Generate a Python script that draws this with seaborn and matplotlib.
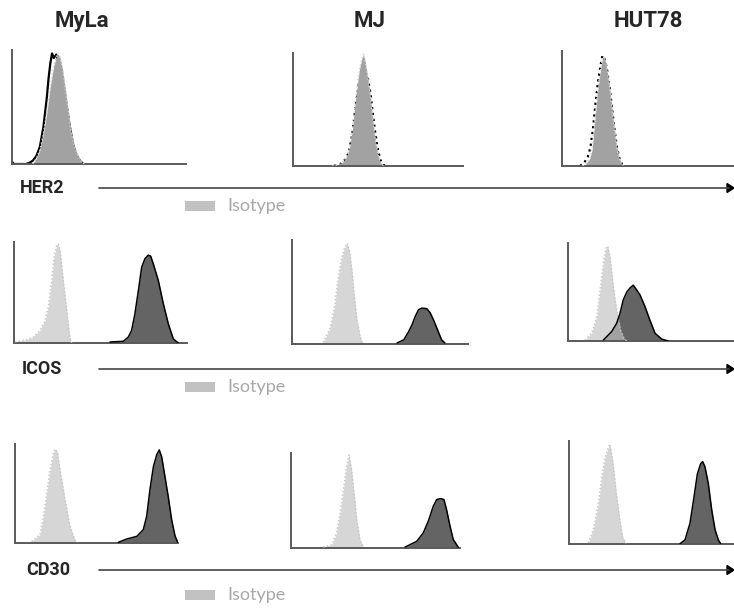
import numpy as np
import pandas as pd
import seaborn as sns
import matplotlib.pyplot as plt
from matplotlib.lines import Line2D
from matplotlib.patches import Polygon, Rectangle

cell_lines = ["MyLa", "MJ", "HUT78"]
markers = ["HER2", "ICOS", "CD30"]

# histogram outlines: (fluorescence % of axis, count % of axis)
her2_myla_iso = [(12, 0), (14, 5), (16, 12), (18, 26), (20, 45), (22, 68), (24, 86), (26, 97), (27.5, 94),
                 (29, 84), (31, 62), (32.5, 45), (34, 28), (36, 15), (38, 7), (40, 2), (41.5, 0)]
her2_myla_stain = [(0, 2), (1, 0), (8, 0), (10, 1), (12, 3), (14, 7), (16, 15), (18, 32), (19, 45), (20, 58),
                   (21, 75), (22, 88), (23, 97), (24, 93), (25.5, 96), (27, 88), (29, 75), (31, 55), (33, 35),
                   (35, 18), (37, 8), (39, 3), (41, 0)]
her2_mj_iso = [(23, 0), (26, 1), (29, 3), (31, 7), (33, 14), (35, 33), (37, 62), (39, 85), (40.5, 95),
               (41.5, 99), (42.5, 92), (44, 78), (45.5, 62), (47, 40), (48.5, 22), (50, 10), (51.5, 3), (53, 0)]
her2_mj_stain = [(24, 0), (28, 2), (31, 6), (33, 13), (35, 30), (37, 55), (39, 75), (41, 83), (42.5, 83),
                 (44, 78), (45.5, 65), (47, 46), (48.5, 28), (50, 14), (51.5, 5), (53, 1), (55, 0)]
her2_hut_iso = [(12, 0), (14, 2), (16, 6), (17.5, 14), (19, 38), (20.5, 62), (22, 80), (23.5, 93), (24.5, 95),
                (25.5, 90), (27, 76), (28.5, 58), (30, 38), (31.5, 20), (33, 8), (34.5, 2), (35.5, 0)]
her2_hut_stain = [(10.5, 0), (13, 3), (15, 8), (16.5, 16), (18, 32), (19.5, 55), (21, 74), (22.5, 88),
                  (23.5, 96), (24.5, 94), (26, 86), (27.5, 70), (29, 52), (30.5, 32), (32, 16), (33.5, 6),
                  (35, 1), (36, 0)]

icos_myla_iso = [(0.6, 1), (7.3, 3.3), (11.2, 6), (15, 12.5), (17.9, 22), (19.8, 36), (21.8, 62), (23.1, 85),
                 (24.7, 97), (25.6, 98), (26.6, 92), (28.5, 62), (30.5, 32), (31.8, 12.5), (32.8, 1), (33.5, 0)]
icos_myla_stain = [(55.5, 1), (63.2, 1.7), (66.1, 6), (68, 12.5), (69.9, 29), (71.9, 52), (73.8, 75),
                   (75.7, 83.5), (77.6, 87), (79, 86), (80.5, 78.5), (83.4, 62), (86.3, 39), (89.2, 19),
                   (92.1, 4), (95, 0)]
icos_mj_iso = [(17.6, 1.6), (21.3, 13.7), (24.2, 36), (26, 61), (27.9, 81), (29.8, 92), (31.3, 97), (32.6, 90),
               (34.1, 71), (35.4, 46), (36.9, 23.6), (38.8, 7), (40.4, 0)]
icos_mj_stain = [(59.7, 1), (63.5, 4), (66.3, 12), (68.2, 18.5), (70, 26.5), (71.9, 33), (73.8, 34.5),
                 (76.6, 34), (78.5, 30), (80.3, 23.6), (82.2, 15.7), (85, 4), (86.9, 1)]
icos_hut_iso = [(10.2, 1), (14.3, 8), (17.3, 25), (19.3, 52), (21.3, 80), (22.9, 95), (23.9, 97), (25.3, 86),
                (27.3, 56), (29.3, 32), (31.7, 11), (33.7, 3), (35.4, 0)]
icos_hut_stain = [(21.3, 1), (26.3, 9.6), (29.3, 18), (31.3, 28), (33.3, 42), (35.4, 50), (37.3, 54),
                  (39.3, 57), (41.4, 52), (43.4, 47), (46.4, 35), (49.4, 21), (52.4, 8), (56.4, 2), (60.4, 0)]

cd30_myla_iso = [(10.2, 1.7), (15.3, 8.4), (17.4, 27), (19.4, 50), (21.5, 74), (23.5, 91), (24.5, 95),
                 (26, 92), (27.6, 74), (30.7, 44), (33.7, 17), (36.8, 3), (38.2, 0)]
cd30_myla_stain = [(63.4, 0.7), (68.5, 4), (74.7, 6.7), (78.7, 13.4), (80.8, 27), (82.8, 54), (84.9, 77),
                   (86.9, 89), (88.5, 94), (90, 87), (92, 67), (94, 47), (96.1, 23.5), (98.2, 7), (99.8, 0.7)]
cd30_mj_iso = [(19.1, 1), (24.1, 3.5), (27, 16), (29, 37), (31, 61), (32.9, 86), (34.3, 98), (35.9, 82),
               (37.3, 58), (38.9, 30), (40.8, 9), (42.8, 1)]
cd30_mj_stain = [(67.5, 1), (70.4, 3.5), (74.4, 7), (78.3, 16), (81.2, 28), (84.2, 44), (86.2, 51),
                 (88.6, 52), (90.5, 51), (92.1, 40), (94.1, 23), (96, 9), (99, 0.7)]
cd30_hut_iso = [(11.7, 1), (14.7, 14), (17.8, 39.5), (19.8, 65), (21.8, 84), (23.8, 94), (24.8, 97),
                (26.5, 81), (28.5, 52), (30.5, 27), (32.5, 7), (34.5, 0.3)]
cd30_hut_stain = [(67.3, 0.3), (70.3, 4), (73.3, 20), (75.8, 46), (77.8, 68), (79.8, 78), (81, 80),
                  (82.4, 75), (84.4, 59), (86.5, 33), (88.5, 14), (90.5, 4), (91.9, 0.3)]

curves = {
    ("HER2", "MyLa"): (her2_myla_iso, her2_myla_stain),
    ("HER2", "MJ"): (her2_mj_iso, her2_mj_stain),
    ("HER2", "HUT78"): (her2_hut_iso, her2_hut_stain),
    ("ICOS", "MyLa"): (icos_myla_iso, icos_myla_stain),
    ("ICOS", "MJ"): (icos_mj_iso, icos_mj_stain),
    ("ICOS", "HUT78"): (icos_hut_iso, icos_hut_stain),
    ("CD30", "MyLa"): (cd30_myla_iso, cd30_myla_stain),
    ("CD30", "MJ"): (cd30_mj_iso, cd30_mj_stain),
    ("CD30", "HUT78"): (cd30_hut_iso, cd30_hut_stain),
}

# panel boxes in pixels (left, top, right, bottom)
boxes = {
    ("HER2", "MyLa"): (12, 50, 186, 164), ("HER2", "MJ"): (293, 53, 463, 166), ("HER2", "HUT78"): (562, 51, 734, 166),
    ("ICOS", "MyLa"): (14, 242, 187, 343), ("ICOS", "MJ"): (292, 240, 468, 344), ("ICOS", "HUT78"): (568, 243, 734, 341),
    ("CD30", "MyLa"): (15, 444, 178, 543), ("CD30", "MJ"): (291, 453, 460, 548), ("CD30", "HUT78"): (569, 441, 734, 544),
}
title_x = [82, 370, 648]
label_rows = {"HER2": (20, 188, 206), "ICOS": (22, 369, 387), "CD30": (26, 570, 595)}

sns.set_style("white")
plt.rcParams['font.family'] = ['Lato', 'DejaVu Sans']
bold_font = ['Roboto', 'DejaVu Sans']

W, H = 734, 612
fig = plt.figure(figsize=(W / 100, H / 100), dpi=100)

stain_style = {"MyLa": "-", "MJ": ":", "HUT78": ":"}

for (marker, line), (iso, stain) in curves.items():
    l, t, r, b = boxes[(marker, line)]
    ax = fig.add_axes([l / W, 1 - b / H, (r - l) / W, (b - t) / H])
    ax.patch.set_alpha(0)
    ix, iy = zip(*iso)
    sx, sy = zip(*stain)
    if marker == "HER2":
        sns.lineplot(x=list(sx), y=list(sy), ax=ax, color="black", linestyle=stain_style[line],
                     linewidth=1.6, sort=False, estimator=None, zorder=1)
        ax.fill_between(ix, iy, 0, color="#a2a2a2", lw=0, zorder=2)
        sns.lineplot(x=list(ix), y=list(iy), ax=ax, color="#d0d0d0", linestyle=":",
                     linewidth=1.0, sort=False, estimator=None, zorder=3)
    else:
        ax.fill_between(sx, sy, 0, color="#646464", lw=0, zorder=1)
        ax.fill_between(ix, iy, 0, color="#c2c2c2", alpha=0.665, lw=0, zorder=2)
        sns.lineplot(x=list(ix), y=list(iy), ax=ax, color="#c4c4c4", linestyle=":",
                     linewidth=1.0, sort=False, estimator=None, zorder=3)
        sns.lineplot(x=list(sx), y=list(sy), ax=ax, color="black", linewidth=1.1,
                     sort=False, estimator=None, zorder=4)
    ax.set_xlim(0, 100)
    ax.set_ylim(0, 100)
    ax.set_xticks([])
    ax.set_yticks([])
    ax.set_xlabel("")
    ax.set_ylabel("")
    for side in ["top", "right"]:
        ax.spines[side].set_visible(False)
    for side in ["left", "bottom"]:
        ax.spines[side].set_color("#5a5a5a")
        ax.spines[side].set_linewidth(1.4)

for name, x in zip(cell_lines, title_x):
    fig.text(x / W, 1 - 21 / H, name, ha="center", va="center", fontsize=16, fontweight="bold",
             family=bold_font)

for marker, (lx, ay, iy) in label_rows.items():
    fig.text(lx / W, 1 - ay / H, marker, ha="left", va="center", fontsize=13, fontweight="bold",
             family=bold_font)
    fig.add_artist(Line2D([99 / W, 729 / W], [1 - ay / H, 1 - ay / H], transform=fig.transFigure,
                          color="#444444", linewidth=1.2))
    fig.add_artist(Polygon([(727 / W, 1 - (ay - 4.5) / H), (734 / W, 1 - ay / H), (727 / W, 1 - (ay + 4.5) / H)],
                           closed=True, transform=fig.transFigure, color="black"))
    fig.add_artist(Rectangle((185 / W, 1 - (iy + 5) / H), 30 / W, 10 / H, transform=fig.transFigure,
                             color="#c2c2c2", lw=0))
    fig.text(227 / W, 1 - iy / H, "Isotype", ha="left", va="center", fontsize=13, color="#a8a8a8")

fig.savefig("out.png", dpi=100)
